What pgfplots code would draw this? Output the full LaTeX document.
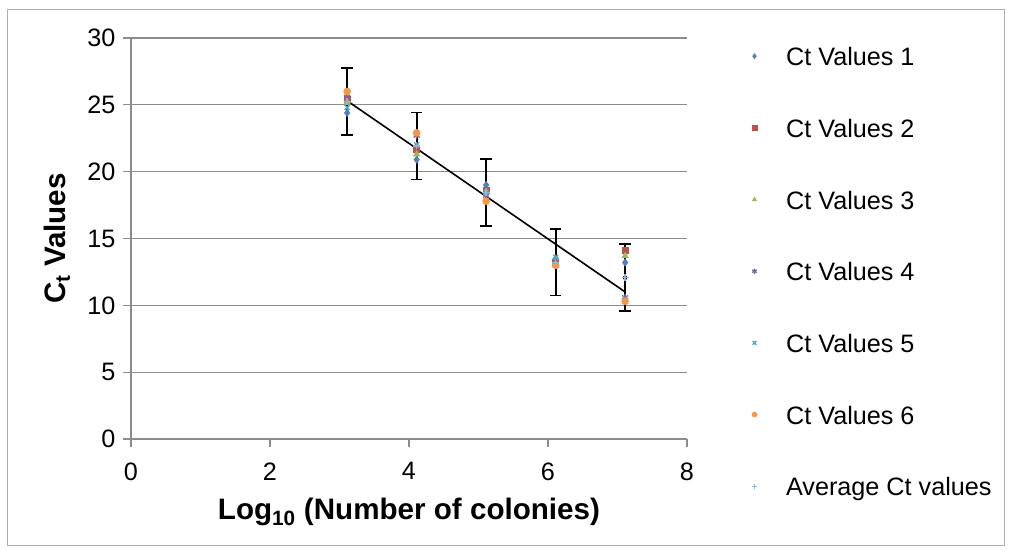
\documentclass[border=0pt]{standalone}
\usepackage{fontspec}
\setmainfont{Liberation Sans}
\usepackage{pgfplots}
\pgfplotsset{compat=1.18}

\definecolor{sone}{HTML}{4F81BD}
\definecolor{stwo}{HTML}{C0504D}
\definecolor{sthree}{HTML}{9BBB59}
\definecolor{sfour}{HTML}{8064A2}
\definecolor{sfive}{HTML}{4BACC6}
\definecolor{ssix}{HTML}{F79646}
\definecolor{savg}{HTML}{95B3D7}
\definecolor{gridgray}{HTML}{8C8C8C}

\newcommand{\bodyfont}{\fontsize{25.2}{29}\selectfont}
\newcommand{\titlefont}{\fontsize{29.6}{34}\selectfont\bfseries}

\begin{document}
\begin{tikzpicture}[x=1pt,y=1pt]
\useasboundingbox (0,0) rectangle (1012,553);
% chart area frame
\draw[gridgray!70, line width=1pt] (7.5,7) rectangle (1004.5,543.5);
\begin{axis}[
  at={(131pt,114pt)}, anchor=south west,
  scale only axis, width=556pt, height=401pt,
  xmin=0, xmax=8, ymin=0, ymax=30,
  xtick={0,2,4,6,8}, ytick={0,5,...,30},
  axis x line*=bottom, axis y line*=left,
  axis line style={draw=gridgray, line width=1.2pt, -},
  ymajorgrids, grid style={gridgray, line width=1.2pt},
  tick align=outside, major tick length=8pt,
  tick style={gridgray, line width=1.2pt},
  ticklabel style={font=\bodyfont},
  xticklabel style={yshift=-12pt},
  yticklabel style={xshift=-4pt},
  /pgf/number format/assume math mode=true,
  xlabel={Log\textsubscript{10} (Number of colonies)},
  ylabel={C\textsubscript{t} Values},
  xlabel style={font=\titlefont, at={(axis description cs:0.5,-0.2)}, anchor=base},
  ylabel style={font=\titlefont, at={(axis description cs:-0.1187,0.5)}, anchor=base},
  legend cell align=left,
  legend style={draw=none, fill=none, at={(1.1164,0.9763)}, anchor=north west,
    font=\bodyfont, row sep=48.67pt, inner sep=0pt,
    nodes={inner sep=0pt, text height=18pt, text depth=5pt},
    /tikz/every odd column/.append style={column sep=29pt}},
  legend image code/.code={\draw[mark repeat=2,mark phase=2,mark size=2.6pt] plot coordinates {(0pt,3pt)(5pt,3pt)(10pt,3pt)};},
]
% error bars of the average
\addplot[only marks, mark=none, forget plot,
  error bars/.cd, y dir=both, y explicit,
  error bar style={draw=black, line width=1.8pt},
  error mark options={draw=black, rotate=90, mark size=5.8pt, line width=1.8pt}]
  coordinates {(3.11,25.23) +- (0,2.5) (4.11,21.92) +- (0,2.5) (5.11,18.42) +- (0,2.5)
               (6.11,13.23) +- (0,2.5) (7.11,12.07) +- (0,2.5)};
% linear trend line
\addplot[black, line width=1.6pt, forget plot] coordinates {(3.11,25.3) (7.11,11.0)};

\addplot[only marks, mark=diamond*, mark size=3.8pt, color=sone]
  coordinates {(3.11,24.4) (4.11,20.9) (5.11,19.0) (6.11,13.5) (7.11,13.2)};
\addlegendentry{Ct Values 1}
\addplot[only marks, mark=square*, mark size=3pt, color=stwo]
  coordinates {(3.11,25.4) (4.11,21.7) (5.11,18.6) (6.11,13.2) (7.11,14.1)};
\addlegendentry{Ct Values 2}
\addplot[only marks, mark=triangle*, mark size=3.8pt, color=sthree]
  coordinates {(3.11,25.2) (4.11,21.3) (5.11,18.5) (6.11,13.1) (7.11,13.7)};
\addlegendentry{Ct Values 3}
\addplot[only marks, mark=asterisk, mark size=3.5pt, line width=1.3pt, color=sfour]
  coordinates {(3.11,25.6) (4.11,22.7) (5.11,18.2) (6.11,13.0) (7.11,10.6)};
\addlegendentry{Ct Values 4}
\addplot[only marks, mark=x, mark size=3.5pt, line width=1.3pt, color=sfive]
  coordinates {(3.11,24.8) (4.11,22.0) (5.11,18.4) (6.11,13.6) (7.11,10.5)};
\addlegendentry{Ct Values 5}
\addplot[only marks, mark=*, mark size=3.6pt, color=ssix]
  coordinates {(3.11,26.0) (4.11,22.9) (5.11,17.8) (6.11,13.0) (7.11,10.3)};
\addlegendentry{Ct Values 6}
\addplot[only marks, mark=+, mark size=3.5pt, line width=1.3pt, color=savg]
  coordinates {(3.11,25.23) (4.11,21.92) (5.11,18.42) (6.11,13.23) (7.11,12.07)};
\addlegendentry{Average Ct values}
\end{axis}
\end{tikzpicture}
\end{document}
